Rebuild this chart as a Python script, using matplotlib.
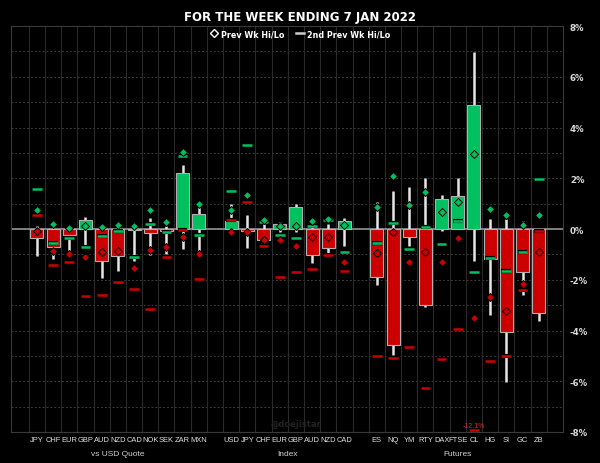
import numpy as np
import matplotlib.pyplot as plt
import matplotlib.patheffects as pe
from matplotlib.lines import Line2D

# weekly % moves
labels = ['JPY', 'CHF', 'EUR', 'GBP', 'AUD', 'NZD', 'CAD', 'NOK', 'SEK', 'ZAR', 'MXN',
          'USD', 'JPY', 'CHF', 'EUR', 'GBP', 'AUD', 'NZD', 'CAD',
          'ES', 'NQ', 'YM', 'RTY', 'DAX', 'FTSE', 'CL', 'HG', 'SI', 'GC', 'ZB']
slots = list(range(0, 11)) + list(range(12, 20)) + list(range(21, 32))

close = [-0.37, -0.70, -0.22, 0.37, -1.25, -1.08, -0.05, -0.16, -0.08, 2.21, 0.58,
         0.33, -0.08, -0.44, 0.20, 0.85, -1.01, -0.76, 0.30,
         -1.90, -4.56, -0.33, -2.99, 1.17, 1.29, 4.89, -1.18, -4.05, -1.71, -3.31]
high = [0.10, 0.05, 0.10, 0.49, 0.02, 0.02, 0.02, 0.45, 0.10, 2.53, 0.85,
        0.98, 0.55, 0.20, 0.26, 0.98, 0.20, 0.20, 0.42,
        1.05, 1.48, 1.67, 2.01, 1.34, 2.00, 6.96, 0.39, 0.39, 0.33, 0.0]
low = [-1.05, -1.18, -0.92, -0.72, -1.94, -1.67, -1.25, -1.01, -0.99, -0.79, -0.85,
       0.0, -0.75, -0.66, -0.13, -0.13, -1.34, -0.95, -0.66,
       -2.21, -4.97, -0.66, -3.09, -0.07, 0.0, -1.27, -3.39, -6.04, -2.60, -3.61]
prev_hi = [0.75, 0.20, 0.03, 0.13, 0.08, 0.17, 0.13, 0.75, 0.26, 3.02, 0.98,
           0.75, 1.34, 0.34, 0.13, 0.13, 0.33, 0.39, 0.16,
           0.85, 2.08, 0.95, 1.44, 0.66, 1.06, 2.96, 0.79, 0.55, 0.16, 0.57]
prev_lo = [-0.07, -0.85, -0.99, -1.09, -0.92, -0.85, -1.54, -0.83, -0.72, -0.33, -0.99,
           -0.10, -0.13, -0.42, -0.42, -0.67, -0.30, -0.30, -1.29,
           -0.96, -0.10, -1.29, -0.92, -1.29, -0.37, -3.52, -2.67, -3.22, -2.17, -0.89]
prev2_hi = [1.56, -0.55, -0.34, -0.70, -0.26, -0.07, -1.12, 0.20, -0.10, 2.86, -0.25,
            1.48, 3.31, 0.28, -0.25, -0.34, 0.10, 0.37, -0.89,
            -0.56, 0.22, -0.79, 0.09, -0.58, 0.30, -1.68, -1.16, -1.67, -0.92, 1.96]
prev2_lo = [0.55, -1.42, -1.31, -2.64, -2.60, -2.10, -2.36, -3.15, -1.09, -0.02, -1.97,
            0.37, 1.08, -0.66, -1.88, -1.69, -1.58, -1.01, -1.64,
            -5.02, -5.08, -4.64, -6.27, -5.12, -3.94, -12.1, -5.19, -5.00, -2.39, -0.07]

groups = ['vs USD Quote', 'Index', 'Futures']
group_centers = [5, 15.5, 26]

GREEN = '#00c060'
RED = '#cc0000'
YMIN, YMAX = -8, 8
SANS = ['Liberation Sans', 'DejaVu Sans']

fig = plt.figure(figsize=(6, 4.64), dpi=100, facecolor='black')
ax = fig.add_axes([11/600, 1-433/464, 552/600, 406/464])
ax.set_facecolor('black')

x = np.array(slots, dtype=float)
close = np.array(close)

# grid
for v in range(YMIN + 1, YMAX):
    if v != 0:
        ax.axhline(v, color='#3c3c3c', lw=0.7, ls=(0, (2, 2)), zorder=0)
for b in np.arange(-0.5, 32.5, 1.0):
    ax.axvline(b, color='#2a2a2a', lw=0.8, zorder=0)
ax.axhline(0, color='#8a8a8a', lw=1.3, zorder=1)

# wicks and bodies
ax.vlines(x, low, high, color='#e6e6e6', lw=1.8, zorder=2)
cols = [GREEN if c > 0 else RED for c in close]
ax.bar(x, close, width=0.8, color=cols, edgecolor='#b0b0b0', lw=0.8, zorder=3)

# 2nd prev week hi/lo dashes
stroke = [pe.withStroke(linewidth=3.0, foreground='black')]
p2lo = np.clip(prev2_lo, YMIN + 0.06, YMAX)
ax.hlines(prev2_hi, x - 0.3, x + 0.3, color=GREEN, lw=1.8, zorder=4, path_effects=stroke)
ax.hlines(p2lo, x - 0.3, x + 0.3, color=RED, lw=1.8, zorder=4, path_effects=stroke)

# prev week hi/lo diamonds
ax.plot(x, prev_hi, 'D', ms=4, mfc=GREEN, mec='black', mew=0.7, ls='none', zorder=5)
ax.plot(x, prev_lo, 'D', ms=4, mfc=RED, mec='black', mew=0.7, ls='none', zorder=5)

# clipped value note
for xi, v in zip(x, prev2_lo):
    if v < YMIN:
        ax.text(xi, YMIN + 0.12, f'-{abs(v):.1f}%', color='#e03030', fontsize=5,
                family=SANS, ha='center', va='bottom', zorder=6)

ax.set_xlim(-1.6, 32.5)
ax.set_ylim(YMIN, YMAX)

ax.set_xticks(x)
ax.set_xticklabels(labels, color='#e0e0e0', fontsize=5.4, family=SANS)
ax.tick_params(axis='x', length=0, pad=3)
ax.yaxis.tick_right()
ax.set_yticks(range(YMIN, YMAX + 1, 2))
ax.set_yticklabels([f'{v}%' for v in range(YMIN, YMAX + 1, 2)], color='#d8d8d8',
                   fontsize=6.2, fontweight='bold')
ax.tick_params(axis='y', length=0, pad=5)
for s in ax.spines.values():
    s.set_color('#3a3a3a')
    s.set_linewidth(0.8)

for g, c in zip(groups, group_centers):
    ax.text(c, -0.045, g, transform=ax.get_xaxis_transform(), color='#d0d0d0',
            fontsize=6, family=SANS, ha='center', va='top')

ax.text(16.0, -7.85, '@doejistar', color='#222222', fontsize=6, ha='center',
        va='bottom', fontweight='bold', zorder=1)

handles = [Line2D([], [], marker='D', ms=4, mfc='none', mec='white', mew=1, ls='none'),
           Line2D([], [], color='#cccccc', lw=1.8)]
leg = ax.legend(handles, ['Prev Wk Hi/Lo', '2nd Prev Wk Hi/Lo'], loc='upper center',
                bbox_to_anchor=(0.524, 1.01), ncol=2, frameon=False, fontsize=5.8,
                handlelength=1.0, handletextpad=0.3, columnspacing=1.5)
for t in leg.get_texts():
    t.set_color('white')
    t.set_fontweight('bold')

fig.text(0.5, 1 - 17/464, 'FOR THE WEEK ENDING 7 JAN 2022', color='white',
         fontsize=8.5, fontweight='bold', ha='center', va='center')

fig.savefig('out.png', dpi=100, facecolor='black')
